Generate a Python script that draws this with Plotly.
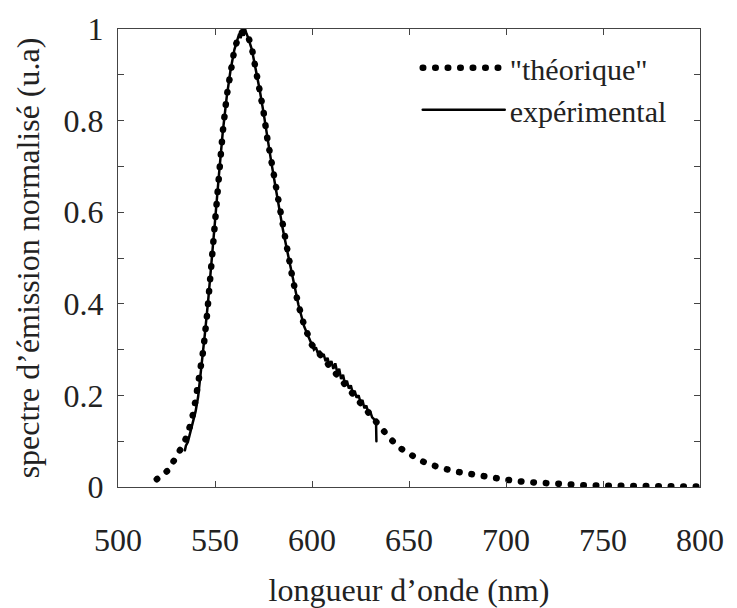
import plotly.graph_objects as go

# ---- data ----
theo_wl = [520, 523, 526, 529, 532, 534, 536, 538, 540, 542, 544, 546, 548, 550,
           552, 554, 556, 558, 560, 562, 564, 565.5, 567, 569, 571, 573, 575, 577,
           579, 581, 583, 585, 587, 590, 593, 596, 600, 605, 610, 615, 620, 625,
           630, 635, 640, 645, 650, 655, 660, 665, 670, 675, 680, 690, 700, 710,
           720, 730, 740, 750, 760, 770, 780, 790, 800]
theo_val = [0.017, 0.027, 0.037, 0.059, 0.079, 0.095, 0.118, 0.145, 0.19, 0.24,
            0.30, 0.38, 0.49, 0.585, 0.685, 0.775, 0.852, 0.91, 0.955, 0.982,
            0.993, 0.995, 0.985, 0.958, 0.915, 0.87, 0.82, 0.76, 0.712, 0.66,
            0.61, 0.563, 0.52, 0.455, 0.398, 0.352, 0.31, 0.285, 0.26, 0.234,
            0.208, 0.182, 0.157, 0.13, 0.107, 0.086, 0.071, 0.06, 0.05, 0.043,
            0.038, 0.033, 0.029, 0.022, 0.016, 0.011, 0.0075, 0.005, 0.0038,
            0.003, 0.0022, 0.0018, 0.0015, 0.0012, 0.001]

exp_wl = [534.5, 535, 536, 537, 538.5, 540, 541.3, 543, 544.8, 546.5, 548.2, 550,
          552, 554, 556, 558, 560, 561.5, 562.5, 563.2, 564, 564.8, 565.5, 566.2,
          567, 569, 571, 573, 575, 577, 579, 581, 583, 585, 587, 590, 593, 596,
          598, 600, 601, 602, 603, 604, 605, 606, 607, 608, 609, 610, 611, 612,
          613, 614, 615, 616, 617, 618, 619, 620, 621, 622, 623, 624, 625, 626,
          627, 628, 629, 630, 631, 632, 633, 633.2]
exp_val = [0.08, 0.09, 0.098, 0.115, 0.135, 0.165, 0.197, 0.26, 0.335, 0.408,
           0.485, 0.58, 0.68, 0.775, 0.85, 0.91, 0.955, 0.975, 0.99, 0.98, 0.995,
           0.985, 1.0, 0.99, 0.982, 0.955, 0.915, 0.868, 0.818, 0.76, 0.71, 0.66,
           0.61, 0.562, 0.52, 0.455, 0.398, 0.35, 0.33, 0.31, 0.30, 0.305, 0.292,
           0.297, 0.285, 0.29, 0.275, 0.282, 0.265, 0.275, 0.258, 0.27, 0.25,
           0.258, 0.236, 0.245, 0.225, 0.232, 0.215, 0.222, 0.205, 0.21, 0.195,
           0.2, 0.185, 0.19, 0.172, 0.178, 0.162, 0.165, 0.152, 0.148, 0.145, 0.10]

x_ticks = [500, 550, 600, 650, 700, 750, 800]
y_ticks = [0, 0.2, 0.4, 0.6, 0.8, 1]
y_tick_text = ["0", "0.2", "0.4", "0.6", "0.8", "1"]

FONT = "Liberation Serif, Times New Roman, serif"
AXC = "#444444"

fig = go.Figure()
fig.add_trace(go.Scatter(
    x=theo_wl, y=theo_val, mode="lines", name='"théorique"',
    line=dict(color="black", width=6.5, dash="0.5px,12px"),
))
fig.add_trace(go.Scatter(
    x=exp_wl, y=exp_val, mode="lines", name="expérimental",
    line=dict(color="black", width=2.5),
))

axis_common = dict(
    showgrid=False, zeroline=False, showline=True, linecolor=AXC, linewidth=1.3,
    ticks="inside", ticklen=6, tickcolor=AXC, tickwidth=1, mirror="ticks",
    tickfont=dict(family=FONT, size=32, color="#222"), automargin=False,
)

fig.update_layout(
    width=737, height=608,
    margin=dict(l=118, r=37, t=29, b=121),
    paper_bgcolor="white", plot_bgcolor="white",
    font=dict(family=FONT, color="#222"),
    showlegend=True,
    legend=dict(
        x=0.515, y=0.972, xanchor="left", yanchor="top",
        bgcolor="rgba(0,0,0,0)", borderwidth=0,
        font=dict(family=FONT, size=30, color="#222"),
        itemwidth=82, tracegroupgap=0,
    ),
    xaxis=dict(
        range=[500, 800], tickvals=x_ticks, ticklabelstandoff=24,
        title=dict(text="longueur d’onde (nm)", font=dict(family=FONT, size=32, color="#222"),
                   standoff=24),
        **axis_common,
    ),
    yaxis=dict(
        range=[0, 1], tickvals=y_ticks, ticktext=y_tick_text, ticklabelstandoff=7,
        minor=dict(dtick=0.1, ticks="inside", ticklen=6, tickcolor=AXC, tickwidth=1),
        title=dict(text="spectre d’émission normalisé (u.a)",
                   font=dict(family=FONT, size=32, color="#222"), standoff=14),
        **axis_common,
    ),
)

post = """
document.body.style.margin='0';
document.querySelectorAll('.js-line, .legendlines path').forEach(function(p){
  p.style.strokeLinecap='round';
});
"""
fig.write_html("out.html", post_script=post, config={"displayModeBar": False})
